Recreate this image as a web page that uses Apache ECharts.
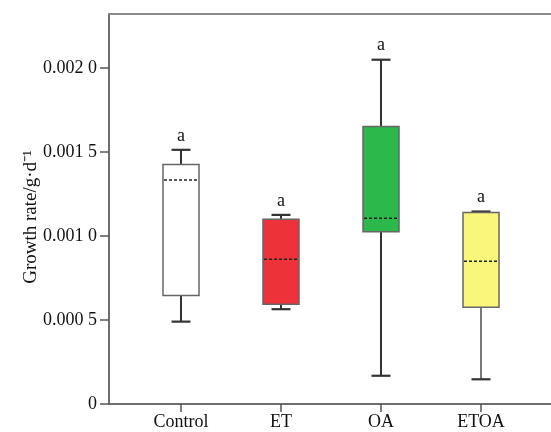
<!DOCTYPE html>
<html>
<head>
<meta charset="utf-8">
<script src="https://cdn.jsdelivr.net/npm/echarts@6/dist/echarts.min.js"></script>
<style>html,body{margin:0;padding:0;background:#fff}#c{width:551px;height:432px}</style>
</head>
<body>
<div id="c"></div>
<script>
const categories = ['Control', 'ET', 'OA', 'ETOA'];
const whiskerLow = [0.000490, 0.000564, 0.000168, 0.000147];
const boxLow = [0.000645, 0.000593, 0.001024, 0.000576];
const medians = [0.001333, 0.000861, 0.001105, 0.000849];
const boxHigh = [0.001424, 0.001099, 0.001651, 0.001139];
const whiskerHigh = [0.001512, 0.001125, 0.002048, 0.001145];
const letters = ['a', 'a', 'a', 'a'];
const yTickValues = [0, 0.0005, 0.001, 0.0015, 0.002];
const yTickLabels = ['0', '0.000 5', '0.001 0', '0.001 5', '0.002 0'];

const fills = ['#ffffff', '#EE3239', '#2DB84B', '#FAF67B'];
const whiskerWidths = [2, 2, 2, 1.3];
const serif = '"Liberation Serif", "Times New Roman", serif';

const chart = echarts.init(document.getElementById('c'), null, {renderer: 'canvas'});

const seriesData = categories.map((c, i) => [i, whiskerLow[i], boxLow[i], medians[i], boxHigh[i], whiskerHigh[i]]);

function renderItem(params, api) {
  const i = params.dataIndex;
  const x = api.value(0);
  const pLo = api.coord([x, api.value(1)]);
  const pQ1 = api.coord([x, api.value(2)]);
  const pMed = api.coord([x, api.value(3)]);
  const pQ3 = api.coord([x, api.value(4)]);
  const pHi = api.coord([x, api.value(5)]);
  const boxW = api.size([0.36, 0])[0];
  const capW = api.size([0.19, 0])[0];
  const cx = pMed[0];
  const wStyle = {stroke: '#333', lineWidth: whiskerWidths[i]};
  const capStyle = {stroke: '#333', lineWidth: 2.2};
  return {
    type: 'group',
    children: [
      {type: 'line', shape: {x1: cx, y1: pQ3[1], x2: cx, y2: pHi[1]}, style: wStyle},
      {type: 'line', shape: {x1: cx, y1: pLo[1], x2: cx, y2: pQ1[1]}, style: wStyle},
      {type: 'line', shape: {x1: cx - capW / 2, y1: pHi[1], x2: cx + capW / 2, y2: pHi[1]}, style: capStyle},
      {type: 'line', shape: {x1: cx - capW / 2, y1: pLo[1], x2: cx + capW / 2, y2: pLo[1]}, style: capStyle},
      {type: 'rect', shape: {x: cx - boxW / 2, y: pQ3[1], width: boxW, height: pQ1[1] - pQ3[1]},
        style: {fill: fills[i], stroke: '#666', lineWidth: 1.5}},
      {type: 'line', shape: {x1: cx - boxW / 2 + 1, y1: pMed[1], x2: cx + boxW / 2 - 1, y2: pMed[1]},
        style: {stroke: '#222', lineWidth: 1.5, lineDash: [3, 2]}},
      {type: 'text', x: cx, y: pHi[1] - 5,
        style: {text: letters[i], fill: '#111', font: '18px ' + serif, textAlign: 'center', textVerticalAlign: 'bottom'}}
    ]
  };
}

const option = {
  animation: false,
  grid: {left: 109, right: 0, top: 14, bottom: 28},
  xAxis: [{
    type: 'value', min: -0.72, max: 3.70, position: 'bottom',
    axisLine: {show: true, onZero: false, lineStyle: {color: '#6e6e6e', width: 2}},
    axisTick: {show: true, length: 8, customValues: [0, 1, 2, 3], lineStyle: {color: '#555', width: 1.5}},
    axisLabel: {customValues: [0, 1, 2, 3], margin: 9,
      formatter: v => categories[Math.round(v)] || '',
      fontFamily: serif, fontSize: 18, color: '#111'},
    splitLine: {show: false}
  }, {
    type: 'value', min: -0.72, max: 3.70, position: 'top',
    axisLine: {show: true, onZero: false, lineStyle: {color: '#8a8a8a', width: 2}},
    axisTick: {show: false}, axisLabel: {show: false}, splitLine: {show: false}
  }],
  yAxis: {
    type: 'value', min: 0, max: 0.00232, interval: 0.0005, position: 'left',
    name: 'Growth rate/g·d⁻¹', nameLocation: 'middle', nameGap: 68, nameMoveOverlap: false,
    nameTextStyle: {fontFamily: serif, fontSize: 19, color: '#111', padding: [0, 16, 0, 0]},
    axisLine: {show: true, onZero: false, lineStyle: {color: '#6e6e6e', width: 2}},
    axisTick: {show: true, length: 9, lineStyle: {color: '#555', width: 1.5}},
    axisLabel: {margin: 12, showMaxLabel: false, fontFamily: serif, fontSize: 18, color: '#111',
      formatter: v => {
        for (let k = 0; k < yTickValues.length; k++) {
          if (Math.abs(v - yTickValues[k]) < 1e-9) return yTickLabels[k];
        }
        return '';
      }},
    splitLine: {show: false}
  },
  series: [{
    type: 'custom', renderItem: renderItem, data: seriesData,
    encode: {x: 0, y: [1, 2, 3, 4, 5]}, clip: false
  }]
};
chart.setOption(option);
</script>
</body>
</html>
